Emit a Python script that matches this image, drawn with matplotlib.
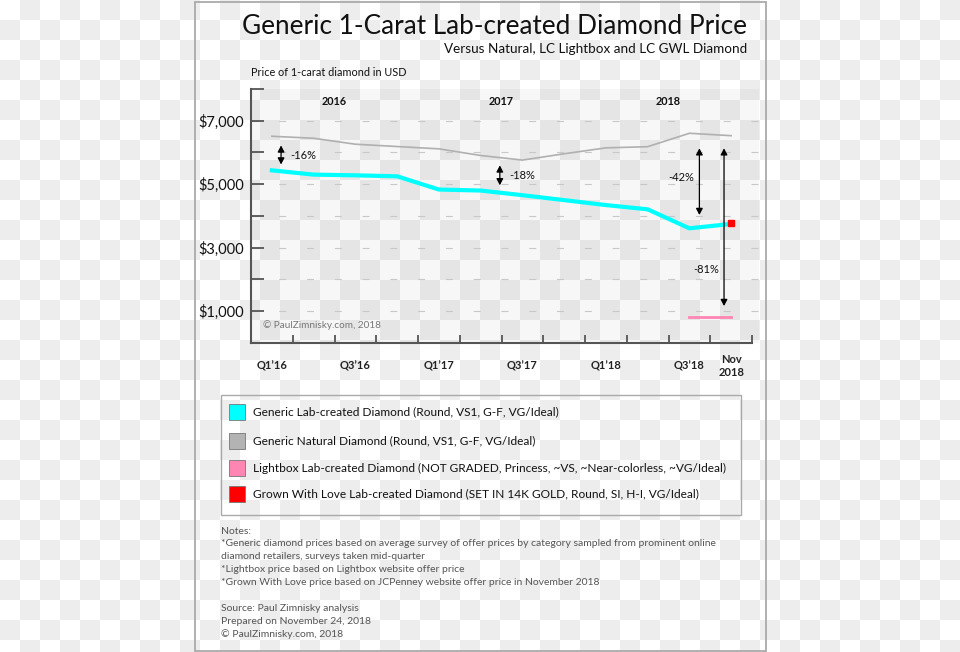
import numpy as np
import matplotlib
matplotlib.use("Agg")
import matplotlib.pyplot as plt
from matplotlib.patches import Rectangle

plt.rcParams['font.family'] = ['Lato', 'DejaVu Sans']
plt.rcParams['lines.scale_dashes'] = False

# quarters Q1'16 .. Q3'18 plus Nov 2018, one slot each on the x axis
periods = ["Q1'16", "Q2'16", "Q3'16", "Q4'16", "Q1'17", "Q2'17", "Q3'17",
           "Q4'17", "Q1'18", "Q2'18", "Q3'18", "Nov 2018"]
lab_price = [5435, 5300, 5278, 5247, 4830, 4798, 4652, 4496, 4340, 4206, 3607, 3745]
natural_price = [6510, 6447, 6259, 6186, 6113, 5904, 5758, 5957, 6144, 6181, 6604, 6528]
lightbox_price = [800, 800]       # Q3'18 and Nov 2018
lightbox_idx = [10, 11]
gwl_price = 3784                  # Nov 2018
gwl_idx = 11

tick_labels = ["Q1\u201916", "Q3\u201916", "Q1\u201917", "Q3\u201917", "Q1\u201918", "Q3\u201918", "Nov\n2018"]
tick_label_idx = [0, 2, 4, 6, 8, 10, 11]
years = ["2016", "2017", "2018"]
year_pos = [2, 6, 10]

# (x slot, y start, y end, label, label x, label y, label align)
gaps = [
    (0.72, 6220, 5620, "-16%", 0.95, 5894, "left"),
    (5.96, 5590, 4965, "-18%", 6.18, 5278, "left"),
    (10.74, 6130, 4027, "-42%", 10.31, 5216, "center"),
    (11.33, 6130, 1157, "-81%", 10.91, 2304, "center"),
]

legend_labels = [
    "Generic Lab-created Diamond (Round, VS1, G-F, VG/Ideal)",
    "Generic Natural Diamond (Round, VS1, G-F, VG/Ideal)",
    "Lightbox Lab-created Diamond (NOT GRADED, Princess, ~VS, ~Near-colorless, ~VG/Ideal)",
    "Grown With Love Lab-created Diamond (SET IN 14K GOLD, Round, SI, H-I, VG/Ideal)",
]
colors = ["#00ffff", "#b3b3b3", "#ff85b2", "#ff0000"]

notes = [
    "Notes:",
    "*Generic diamond prices based on average survey of offer prices by category sampled from prominent online",
    "diamond retailers, surveys taken mid-quarter",
    "*Lightbox price based on Lightbox website offer price",
    "*Grown With Love price based on JCPenney website offer price in November 2018",
    "",
    "Source: Paul Zimnisky analysis",
    "Prepared on November 24, 2018",
    "\u00a9 PaulZimnisky.com, 2018",
]

W, H = 960, 652
fig = plt.figure(figsize=(W / 100, H / 100), dpi=100)

# background: transparent-looking checkerboard, pixel coordinates
bg = fig.add_axes([0, 0, 1, 1])
rows, cols = 33, 48
ii, jj = np.indices((rows, cols))
cells = ((ii + jj) % 2).astype(float)
rgb = np.ones((rows, cols, 3))
rgb[cells == 1] = 0xed / 255
bg.imshow(rgb, extent=(0, cols * 20, rows * 20, 0), interpolation="nearest")
bg.set_xlim(0, W)
bg.set_ylim(H, 0)
bg.axis("off")

bg.add_patch(Rectangle((194.5, 1.5), 571.5, 649, fill=False, ec="#aaaaaa", lw=1.3))

bg.text(747, 27, "Generic 1-Carat Lab-created Diamond Price", ha="right", va="center",
        fontsize=18.8, color="#111111")
bg.text(747, 49, "Versus Natural, LC Lightbox and LC GWL Diamond", ha="right", va="center",
        fontsize=9.7, color="#111111")
bg.text(251, 73, "Price of 1-carat diamond in USD", ha="left", va="center",
        fontsize=7.8, color="#111111")

# legend
bg.add_patch(Rectangle((221, 394.5), 520, 120, fill=False, ec="#aaaaaa", lw=1))
leg_y = [412, 441, 468, 494]
for y, lab, c in zip(leg_y, legend_labels, colors):
    bg.add_patch(Rectangle((229, y - 8), 16, 16, fc=c, ec="#777777", lw=0.6))
    bg.text(253, y, lab, ha="left", va="center", fontsize=8.6, color="#111111")

# notes
for k, line in enumerate(notes):
    bg.text(221, 531 + k * 12.9, line, ha="left", va="center", fontsize=7.5, color="#555555")

# main chart
x0, x1, ytop, ybot = 251, 759, 89, 342.7
ax = fig.add_axes([x0 / W, 1 - ybot / H, (x1 - x0) / W, (ybot - ytop) / H])
ax.set_facecolor((0, 0, 0, 0.03))
ax.set_xlim(0, 12 * (x1 - x0) / (752 - x0))
ax.set_ylim(0, 8000)

xs = np.arange(len(periods)) + 0.5
for v in range(1000, 8000, 1000):
    ax.axhline(v, color="#c8c8c8", lw=0.8, ls=(0, (5, 15)), zorder=1)

ax.plot(xs, natural_price, color="#b0b0b0", lw=1.2, zorder=3)
ax.plot(xs, lab_price, color="#00ffff", lw=3, solid_joinstyle="miter", zorder=4)
ax.plot(xs[lightbox_idx], lightbox_price, color="#ff85b2", lw=2, zorder=4)
ax.plot([xs[gwl_idx]], [gwl_price], marker="s", ms=4.5, color="#ff0000", ls="none", zorder=5)

for gx, ya, yb, txt, tx, ty, al in gaps:
    ax.annotate("", xy=(gx, ya), xytext=(gx, yb),
                arrowprops=dict(arrowstyle="<|-|>,head_length=0.38,head_width=0.2",
                                color="black", lw=0.9, shrinkA=0, shrinkB=0), zorder=6)
    ax.text(tx, ty, txt, ha=al, va="center", fontsize=8, color="#111111", zorder=6)

for yr, p in zip(years, year_pos):
    ax.text(p, 7620, yr, ha="center", va="center", fontsize=7.8, fontweight="bold", color="#111111")

ax.text(0.29, 560, "\u00a9 PaulZimnisky.com, 2018", ha="left", va="center", fontsize=7.2, color="#777777")

for s in ["top", "right"]:
    ax.spines[s].set_visible(False)
for s in ["left", "bottom"]:
    ax.spines[s].set_color("#555555")
    ax.spines[s].set_linewidth(1.5)
ax.spines["bottom"].set_bounds(0, 12)

ax.set_yticks([1000, 3000, 5000, 7000])
ax.set_yticklabels(["${:,}".format(v) for v in [1000, 3000, 5000, 7000]])
ax.set_yticks([0, 2000, 4000, 6000, 8000], minor=True)
ax.tick_params(axis="y", which="both", direction="in", length=9, width=1.3, color="#555555",
               labelsize=10.5, pad=5, labelcolor="#111111")
ax.set_xticks(np.arange(0, 13))
ax.set_xticklabels([])
ax.tick_params(axis="x", direction="in", length=6, width=1.3, color="#555555")

for lab, i in zip(tick_labels, tick_label_idx):
    ax.text(xs[i], -0.092, lab, transform=ax.get_xaxis_transform(), ha="center", va="center",
            fontsize=8, fontweight="bold", color="#222222", linespacing=1.3)

fig.savefig("out.png", dpi=100)
